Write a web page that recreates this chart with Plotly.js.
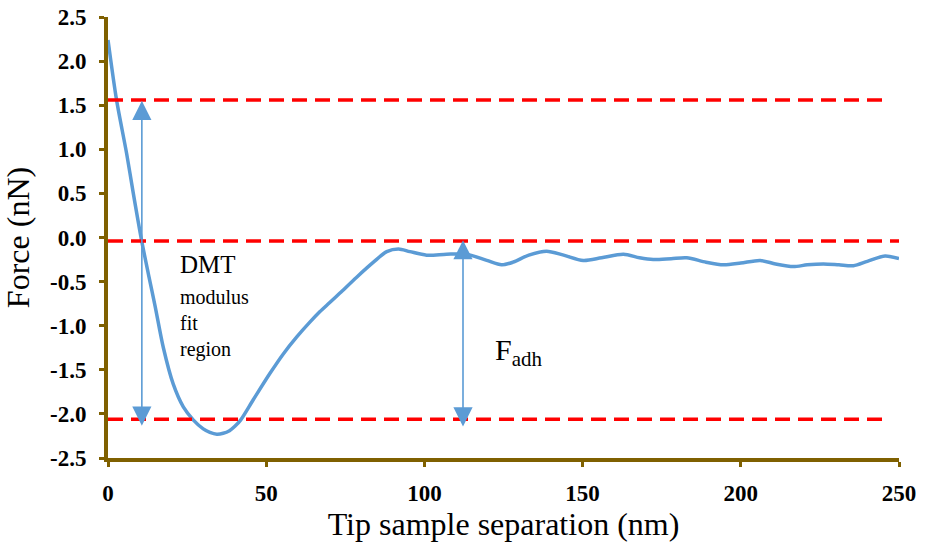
<!DOCTYPE html>
<html>
<head>
<meta charset="utf-8">
<script src="https://cdn.plot.ly/plotly-3.0.1.min.js"></script>
<style>html,body{margin:0;padding:0;background:#fff}#chart{width:928px;height:553px}</style>
</head>
<body>
<div id="chart"></div>
<script>
// Force-separation curve (nm, nN)
const separation = [0, 2.7, 5.9, 8, 10.6, 12.8, 14.9, 17.5, 20.6, 23.8, 27, 30.1, 32.2, 34.4, 36.4, 38.4, 40.1, 41.9, 45.9, 51.2, 55.4, 59.6, 63.8, 67, 70, 73.3, 78.6, 83.9, 88.1, 91.8, 95.4, 100.7, 107, 113.4, 119.7, 124.4, 128, 133, 138.6, 144, 150.2, 156, 162.9, 168, 172.3, 178, 182.9, 189, 194.5, 200, 206.1, 211, 216.6, 221, 226.1, 231, 235.6, 240, 245.6, 250];
const force = [2.24, 1.56, 0.95, 0.5, -0.03, -0.42, -0.78, -1.25, -1.66, -1.92, -2.07, -2.17, -2.21, -2.23, -2.22, -2.19, -2.14, -2.07, -1.84, -1.54, -1.32, -1.13, -0.96, -0.84, -0.74, -0.63, -0.45, -0.28, -0.16, -0.13, -0.16, -0.2, -0.19, -0.19, -0.26, -0.31, -0.28, -0.2, -0.155, -0.2, -0.26, -0.23, -0.19, -0.23, -0.25, -0.24, -0.23, -0.28, -0.31, -0.29, -0.26, -0.3, -0.33, -0.31, -0.3, -0.31, -0.32, -0.27, -0.21, -0.24];

// Reference dashed levels (nN) and where each dashed line ends (nm)
const refLevels = [1.56, -0.04, -2.06];
const refEnds = [245.5, 253.5, 245.5];

// Double arrows: [x, yTop, yBottom]
const dmtArrow = [10.7, 1.55, -2.15];
const adhArrow = [112.2, -0.03, -2.16];

// Ticks
const xTicks = [0, 50, 100, 150, 200, 250];
const yTicks = [-2.5, -2.0, -1.5, -1.0, -0.5, 0.0, 0.5, 1.0, 1.5, 2.0, 2.5];

const serif = 'Liberation Serif, Times New Roman, serif';
const axisColor = '#7F6000';
const blue = '#5B9BD5';

const traces = [
  {x: separation, y: force, mode: 'lines', line: {color: blue, width: 3.5, shape: 'spline', smoothing: 0.8}, hoverinfo: 'skip'}
];
refLevels.forEach((lv, i) => {
  traces.push({x: [0, refEnds[i]], y: [lv, lv], mode: 'lines', line: {color: '#FF0000', width: 3.5, dash: '15px,8px'}, hoverinfo: 'skip'});
});

function dbl(a) {
  return {x: a[0], y: a[1], ax: a[0], ay: a[2], xref: 'x', yref: 'y', axref: 'x', ayref: 'y',
    showarrow: true, text: '', arrowside: 'end+start', arrowhead: 2, startarrowhead: 2,
    arrowsize: 2.4, startarrowsize: 2.4, arrowwidth: 1.6, arrowcolor: blue, standoff: 0, startstandoff: 0};
}

const annotations = [
  dbl(dmtArrow), dbl(adhArrow),
  {x: 22, y: -0.31, xref: 'x', yref: 'y', xanchor: 'left', yanchor: 'middle', showarrow: false, text: 'DMT', font: {family: serif, size: 25, color: '#000'}},
  {x: 22, y: -0.68, xref: 'x', yref: 'y', xanchor: 'left', yanchor: 'middle', showarrow: false, text: 'modulus', font: {family: serif, size: 20, color: '#000'}},
  {x: 22, y: -0.97, xref: 'x', yref: 'y', xanchor: 'left', yanchor: 'middle', showarrow: false, text: 'fit', font: {family: serif, size: 20, color: '#000'}},
  {x: 22, y: -1.27, xref: 'x', yref: 'y', xanchor: 'left', yanchor: 'middle', showarrow: false, text: 'region', font: {family: serif, size: 20, color: '#000'}},
  {x: 121.7, y: -1.3, xref: 'x', yref: 'y', xanchor: 'left', yanchor: 'middle', showarrow: false, text: 'F<sub>adh</sub>', font: {family: serif, size: 30, color: '#000'}}
];

const layout = {
  width: 928, height: 553,
  margin: {l: 108, r: 29, t: 17, b: 95},
  paper_bgcolor: '#fff', plot_bgcolor: '#fff',
  showlegend: false,
  font: {family: serif},
  xaxis: {
    range: [0, 250], tickvals: xTicks, ticktext: xTicks.map(String),
    showgrid: false, zeroline: false, showline: true, linecolor: axisColor, linewidth: 4,
    ticks: 'outside', ticklen: 5, tickwidth: 3, tickcolor: axisColor, ticklabelstandoff: 6,
    tickfont: {family: serif, size: 23, color: '#000', weight: 'bold'},
    title: {text: 'Tip sample separation (nm)', font: {family: serif, size: 32, color: '#000'}, standoff: 8}
  },
  yaxis: {
    range: [-2.5, 2.5], tickvals: yTicks, ticktext: yTicks.map(v => v.toFixed(1)),
    showgrid: false, zeroline: false, showline: true, linecolor: axisColor, linewidth: 4,
    ticks: 'outside', ticklen: 5, tickwidth: 3, tickcolor: axisColor, ticklabelstandoff: 8,
    tickfont: {family: serif, size: 23, color: '#000', weight: 'bold'},
    title: {text: 'Force (nN)', font: {family: serif, size: 32, color: '#000'}, standoff: 12}
  },
  annotations: annotations
};

Plotly.newPlot('chart', traces, layout, {displayModeBar: false, staticPlot: true});
</script>
</body>
</html>
